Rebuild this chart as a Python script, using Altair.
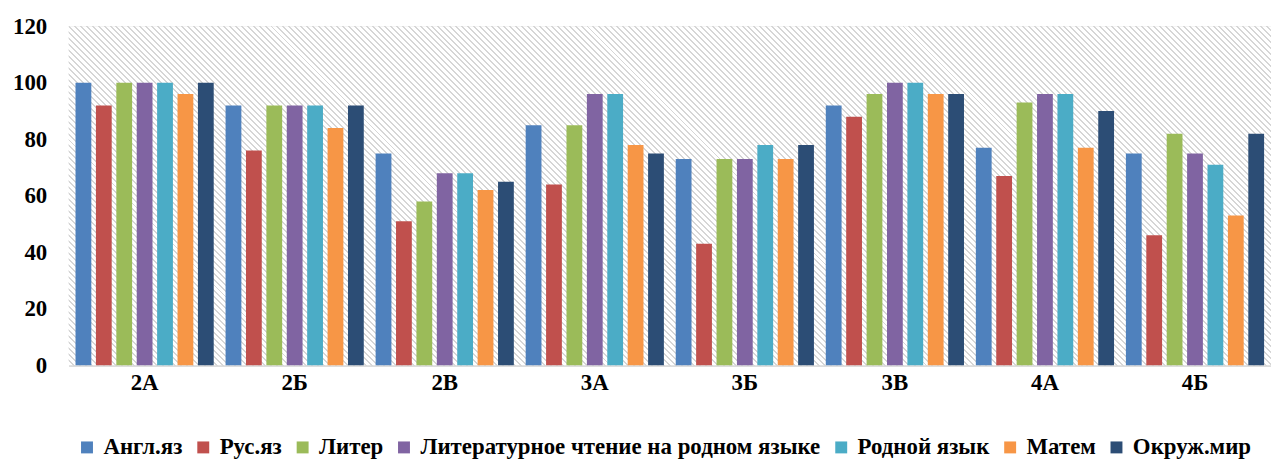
import altair as alt
import pandas as pd

classes = ["2А", "2Б", "2В", "3А", "3Б", "3В", "4А", "4Б"]
subjects = ["Англ.яз", "Рус.яз", "Литер", "Литературное чтение на родном языке",
            "Родной язык", "Матем", "Окруж.мир"]
angl = [100, 92, 75, 85, 73, 92, 77, 75]
rus = [92, 76, 51, 64, 43, 88, 67, 46]
liter = [100, 92, 58, 85, 73, 96, 93, 82]
lit_rod = [100, 92, 68, 96, 73, 100, 96, 75]
rodnoy = [100, 92, 68, 96, 78, 100, 96, 71]
matem = [96, 84, 62, 78, 73, 96, 77, 53]
okruzh = [100, 92, 65, 75, 78, 96, 90, 82]
colors = ["#4F81BD", "#C0504D", "#9BBB59", "#8064A2", "#4BACC6", "#F79646", "#2C4D75"]
y_ticks = [0, 20, 40, 60, 80, 100, 120]

series = [angl, rus, liter, lit_rod, rodnoy, matem, okruzh]
rows = []
for subj, vals in zip(subjects, series):
    for cls, v in zip(classes, vals):
        rows.append({"Класс": cls, "Предмет": subj, "Значение": v})
df = pd.DataFrame(rows)

W, H = 1210, 341
FONT = "Liberation Serif, Times New Roman, serif"

# diagonal hatch background of the plot area (style only)
total = W + H
period, line = 6.0, 2.0
stops = []
i = 0
while i * period < total:
    a = i * period / total
    b = min((i * period + period - line) / total, 1.0)
    c = min((i + 1) * period / total, 1.0)
    stops += [{"offset": a, "color": "#ffffff"}, {"offset": b, "color": "#ffffff"},
              {"offset": b, "color": "#d6d6d6"}, {"offset": c, "color": "#d6d6d6"}]
    i += 1
r = H / W
k = (1 + r) / (1 + r * r)
hatch = {"gradient": "linear", "x1": 0, "y1": 1, "x2": k, "y2": 1 - k * r, "stops": stops}

background = alt.Chart(pd.DataFrame({"bg": [0]})).mark_rect(fill=hatch, strokeWidth=0).encode(
    x=alt.value(0), x2=alt.value("width"), y=alt.value(0), y2=alt.value("height")
)

bars = alt.Chart(df).mark_bar().encode(
    x=alt.X("Класс:N", sort=classes,
            scale=alt.Scale(paddingInner=0.079, paddingOuter=0.046),
            axis=alt.Axis(title=None, labelAngle=0, labelFontSize=23, labelFont=FONT,
                          labelFontWeight="bold", labelColor="#000000", labelPadding=6,
                          ticks=False, domainColor="#d9d9d9", domainWidth=2)),
    xOffset=alt.XOffset("Предмет:N", sort=subjects,
                        scale=alt.Scale(paddingInner=0.226, paddingOuter=0)),
    y=alt.Y("Значение:Q", scale=alt.Scale(domain=[0, 120], nice=False),
            axis=alt.Axis(title=None, values=y_ticks, labelFontSize=23, labelFont=FONT,
                          labelFontWeight="bold", labelColor="#000000", labelPadding=22,
                          ticks=False, domain=False, gridColor="#d9d9d9", gridWidth=1.5)),
    color=alt.Color("Предмет:N", sort=subjects,
                    scale=alt.Scale(domain=subjects, range=colors),
                    legend=alt.Legend(title=None, orient="none", legendX=7, legendY=412,
                                      direction="horizontal", columns=7, symbolType="square",
                                      symbolSize=144, symbolStrokeWidth=0,
                                      labelFontSize=23, labelFont=FONT, labelFontWeight="bold",
                                      labelColor="#000000", labelOffset=5, columnPadding=9,
                                      padding=0, labelLimit=600)),
)

chart = alt.layer(background, bars).properties(
    width=W, height=H,
    autosize=alt.AutoSizeParams(type="none"),
    padding={"left": 61, "top": 17, "right": 0, "bottom": 100},
).configure_view(
    stroke=None
)

chart.save("out.html", embed_options={"renderer": "svg", "actions": False})
